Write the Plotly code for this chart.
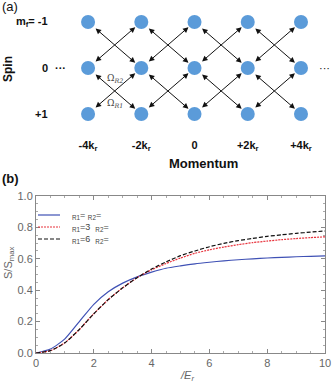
import plotly.graph_objects as go

# ---- panel (a): lattice of momentum / spin states ----
momentum = [-4, -2, 0, 2, 4]
momentum_labels = ["-4k<sub>r</sub>", "-2k<sub>r</sub>", "0", "+2k<sub>r</sub>", "+4k<sub>r</sub>"]
spin = [-1, 0, 1]
spin_labels = ["m<sub>f</sub>= -1", "0", "+1"]

# ---- panel (b): S/Smax vs Omega/Er ----
x_vals = [0, 0.5, 1, 1.5, 2, 2.5, 3, 3.5, 4, 4.5, 5, 5.5, 6, 6.5, 7, 7.5, 8, 8.5, 9, 9.5, 10]
s_equal = [0, 0.025, 0.09, 0.2, 0.31, 0.39, 0.445, 0.485, 0.515, 0.54, 0.555, 0.568,
           0.578, 0.587, 0.594, 0.600, 0.605, 0.609, 0.613, 0.616, 0.619]
s_r3 = [0, 0.015, 0.065, 0.15, 0.25, 0.34, 0.415, 0.48, 0.53, 0.57, 0.605, 0.635,
        0.657, 0.675, 0.69, 0.703, 0.713, 0.722, 0.729, 0.735, 0.74]
s_r6 = [0, 0.015, 0.065, 0.15, 0.25, 0.34, 0.415, 0.48, 0.535, 0.58, 0.62, 0.65,
        0.677, 0.698, 0.716, 0.73, 0.743, 0.753, 0.762, 0.77, 0.777]
legend_names = ["<sub>R1</sub>= <sub>R2</sub>=",
                "<sub>R1</sub>=3  <sub>R2</sub>=",
                "<sub>R1</sub>=6  <sub>R2</sub>="]

series = [s_equal, s_r3, s_r6]
colors = ["#3f51b5", "#e8323c", "#111111"]
dashes = ["solid", "2px,1px", "4px,2px"]

fig = go.Figure()

# panel (b) curves
for ys, name, c, d in zip(series, legend_names, colors, dashes):
    fig.add_trace(go.Scatter(x=x_vals, y=ys, mode="lines", name=name, showlegend=False,
                             line=dict(color=c, width=1.2, dash=d, shape="spline", smoothing=0.6)))

# compact legend (plotly's own legend rows are too tall here)
for i, (name, c, d) in enumerate(zip(legend_names, colors, dashes)):
    yp = 1 - (215 + 12 * i) / 383
    fig.add_shape(type="line", xref="paper", yref="paper", x0=38 / 332, x1=60 / 332, y0=yp, y1=yp,
                  line=dict(color=c, width=1.2, dash=d))
    fig.add_annotation(x=70 / 332, y=yp, xref="paper", yref="paper", text=name, showarrow=False,
                       xanchor="left", yanchor="middle",
                       font=dict(family="Liberation Sans", size=9, color="#444"))

# dots
dot_x = [k for m in spin for k in momentum]
dot_y = [m for m in spin for k in momentum]
fig.add_trace(go.Scatter(x=dot_x, y=dot_y, mode="markers", xaxis="x2", yaxis="y2",
                         marker=dict(size=14, color="#5b9bd9"), showlegend=False, hoverinfo="skip"))
# momentum labels
fig.add_trace(go.Scatter(x=momentum, y=[1.7] * len(momentum), mode="text",
                         text=["<b>" + t + "</b>" for t in momentum_labels],
                         xaxis="x2", yaxis="y2", showlegend=False, hoverinfo="skip",
                         textfont=dict(family="Liberation Sans", size=11, color="#111")))

# double arrows between neighbouring states
for i in range(len(momentum) - 1):
    k1, k2 = momentum[i], momentum[i + 1]
    for j in range(len(spin) - 1):
        m1, m2 = spin[j], spin[j + 1]
        for (xs, ys, xe, ye) in [(k1, m1, k2, m2), (k1, m2, k2, m1)]:
            fig.add_annotation(x=xe, y=ye, ax=xs, ay=ys, xref="x2", yref="y2", axref="x2", ayref="y2",
                               text="", showarrow=True, arrowhead=2, startarrowhead=2,
                               arrowside="end+start", arrowsize=1.1, startarrowsize=1.1,
                               arrowwidth=1, arrowcolor="#111", standoff=8, startstandoff=8)

# spin labels
lab_font = dict(family="Liberation Sans", size=11, color="#111")
for m, lab in zip(spin, spin_labels):
    fig.add_annotation(x=-5.43, y=m, xref="x2", yref="y2", text="<b>" + lab + "</b>", showarrow=False,
                       xanchor="right", yanchor="middle", font=lab_font)
fig.add_annotation(x=-5.32, y=0, xref="x2", yref="y2", text="<b>···</b>", showarrow=False,
                   xanchor="left", yanchor="middle", font=lab_font)
fig.add_annotation(x=4.61, y=0, xref="x2", yref="y2", text="···", showarrow=False,
                   xanchor="left", yanchor="middle", font=lab_font)
fig.add_annotation(x=-3.0, y=0.22, xref="x2", yref="y2", text="Ω<sub><i>R2</i></sub>", showarrow=False,
                   xanchor="center", yanchor="middle", font=dict(family="DejaVu Serif", size=9, color="#444"))
fig.add_annotation(x=-3.0, y=0.78, xref="x2", yref="y2", text="Ω<sub><i>R1</i></sub>", showarrow=False,
                   xanchor="center", yanchor="middle", font=dict(family="DejaVu Serif", size=9, color="#444"))

# panel text
fig.add_annotation(x=0, y=1 - 7 / 383, xref="paper", yref="paper", text="(a)", showarrow=False,
                   xanchor="left", yanchor="middle", font=dict(family="Liberation Sans", size=13, color="#111"))
fig.add_annotation(x=8 / 332, y=1 - 69 / 383, xref="paper", yref="paper", text="<b>Spin</b>",
                   showarrow=False, textangle=-90, xanchor="center", yanchor="middle",
                   font=dict(family="Liberation Sans", size=12, color="#111"))
fig.add_annotation(x=203 / 332, y=1 - 164 / 383, xref="paper", yref="paper", text="<b>Momentum</b>",
                   showarrow=False, xanchor="center", yanchor="middle",
                   font=dict(family="Liberation Sans", size=13, color="#111"))
fig.add_annotation(x=0, y=1 - 178 / 383, xref="paper", yref="paper", text="<b>(b)</b>",
                   showarrow=False, xanchor="left", yanchor="middle",
                   font=dict(family="Liberation Sans", size=13, color="#111"))
# axis titles as paper annotations so they do not push the margins
fig.add_annotation(x=187 / 332, y=1 - 376 / 383, xref="paper", yref="paper",
                   text="<i>/E<sub>r</sub></i>", showarrow=False, xanchor="center", yanchor="middle",
                   font=dict(family="Liberation Sans", size=11, color="#666"))
fig.add_annotation(x=9 / 332, y=1 - 263 / 383, xref="paper", yref="paper",
                   text="S/S<sub>max</sub>", showarrow=False, textangle=-90, xanchor="center",
                   yanchor="middle", font=dict(family="Liberation Sans", size=11, color="#666"))

axis_font = dict(family="Liberation Sans", size=11, color="#666")
fig.update_layout(
    width=332, height=383, margin=dict(l=0, r=0, t=0, b=0, autoexpand=False),
    paper_bgcolor="white", plot_bgcolor="rgba(0,0,0,0)", showlegend=False,
    xaxis=dict(domain=[36 / 332, 325 / 332], range=[0, 10], dtick=2, anchor="y",
               showline=True, linecolor="#888", mirror="ticks", ticks="inside", ticklen=4,
               tickcolor="#888", showgrid=False, zeroline=False, tickfont=axis_font, automargin=False,
               minor=dict(dtick=0.5, ticks="inside", ticklen=2, tickcolor="#aaa")),
    yaxis=dict(domain=[30 / 383, 187 / 383], range=[0, 1], dtick=0.2, tickformat=".1f", anchor="x",
               showline=True, linecolor="#888", mirror="ticks", ticks="inside", ticklen=4,
               tickcolor="#888", showgrid=False, zeroline=False, tickfont=axis_font, automargin=False,
               minor=dict(dtick=0.05, ticks="inside", ticklen=2, tickcolor="#aaa")),
    xaxis2=dict(domain=[0, 1], range=[-7.308, 5.165], visible=False, anchor="y2", automargin=False),
    yaxis2=dict(domain=[1 - 175 / 383, 1], range=[2.326, -1.478], visible=False, anchor="x2",
                automargin=False),
)

# the browser adds an 8px body margin; remove it so the figure fills the window
fig.write_html("out.html", config={"displayModeBar": False},
               post_script="document.body.style.margin='0px';")
